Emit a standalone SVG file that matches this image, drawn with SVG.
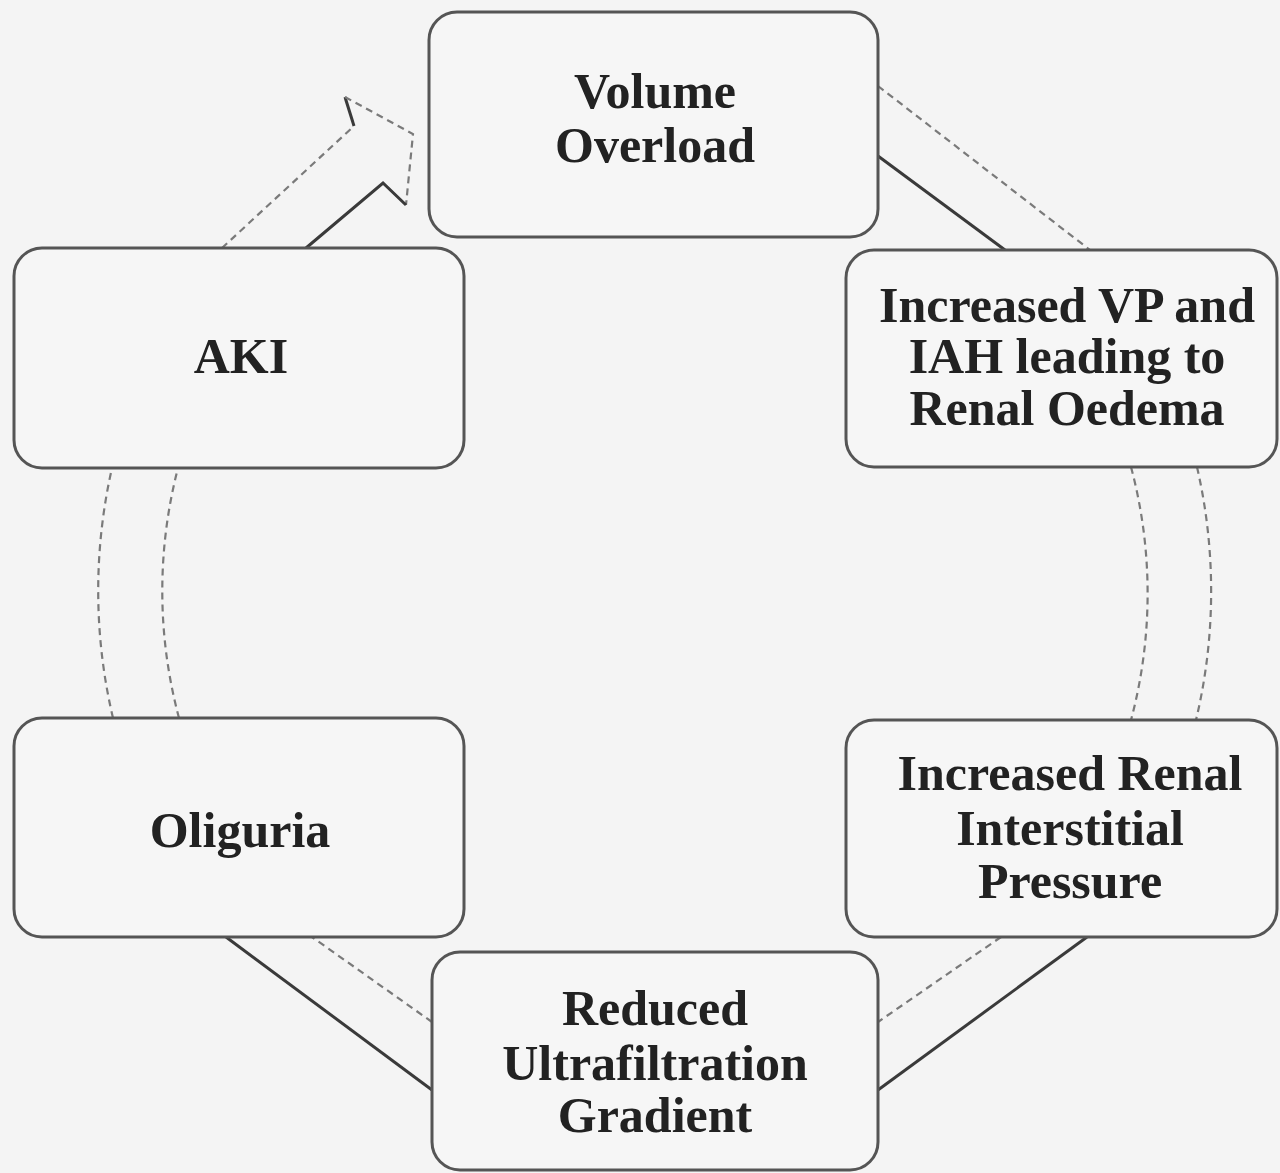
<svg xmlns="http://www.w3.org/2000/svg" width="1280" height="1173" viewBox="0 0 1280 1173">
<style>
.bg{fill:#f4f4f4}
.box{fill:#f6f6f6;stroke:#555;stroke-width:3}
.lbl{font-family:"Liberation Serif","Times New Roman",serif;font-weight:bold;font-size:50px;fill:#222;text-anchor:middle}
.dash{fill:none;stroke:#7a7a7a;stroke-width:2.2;stroke-dasharray:7 5}
.solid{fill:none;stroke:#3a3a3a;stroke-width:3}
</style>
<rect class="bg" x="0" y="0" width="1280" height="1173"/>
<g id="connectors">
  <!-- Volume Overload -> Increased VP -->
  <path class="dash" d="M 878 86 L 1090 250"/>
  <path class="solid" d="M 878 156 L 1005 250"/>
  <!-- Increased VP -> Increased Renal Interstitial Pressure -->
  <path class="dash" d="M 1197 467 A 554 554 0 0 1 1196 720"/>
  <path class="dash" d="M 1131 467 A 490 490 0 0 1 1131 720"/>
  <!-- Increased Renal Interstitial Pressure -> Reduced Ultrafiltration -->
  <path class="solid" d="M 1087 937 L 878 1090"/>
  <path class="dash" d="M 1001 937 L 878 1022"/>
  <!-- Reduced Ultrafiltration -> Oliguria -->
  <path class="solid" d="M 432 1090 L 226 937"/>
  <path class="dash" d="M 432 1022 L 312 937"/>
  <!-- Oliguria -> AKI -->
  <path class="dash" d="M 113 718 A 554 554 0 0 1 112 468"/>
  <path class="dash" d="M 179 718 A 490 490 0 0 1 178 468"/>
  <!-- AKI -> Volume Overload (with arrowhead) -->
  <path class="dash" d="M 222 248 L 354 126"/>
  <path class="solid" d="M 354 126 L 345 97"/>
  <path class="dash" d="M 345 97 L 413 134 L 406 205"/>
  <path class="solid" d="M 406 205 L 383 183 L 306 248"/>
</g>
<g id="node-volume-overload">
  <rect class="box" x="429" y="12" width="449" height="225" rx="28"/>
  <text class="lbl" x="655" y="108">Volume</text>
  <text class="lbl" x="655" y="162">Overload</text>
</g>
<g id="node-increased-vp">
  <rect class="box" x="846" y="250" width="431" height="217" rx="28"/>
  <text class="lbl" x="1067" y="322">Increased VP and</text>
  <text class="lbl" x="1067" y="373">IAH leading to</text>
  <text class="lbl" x="1067" y="425">Renal Oedema</text>
</g>
<g id="node-interstitial-pressure">
  <rect class="box" x="846" y="720" width="431" height="217" rx="28"/>
  <text class="lbl" x="1070" y="790">Increased Renal</text>
  <text class="lbl" x="1070" y="845">Interstitial</text>
  <text class="lbl" x="1070" y="898">Pressure</text>
</g>
<g id="node-reduced-ultrafiltration">
  <rect class="box" x="432" y="952" width="446" height="218" rx="28"/>
  <text class="lbl" x="655" y="1025">Reduced</text>
  <text class="lbl" x="655" y="1080">Ultrafiltration</text>
  <text class="lbl" x="655" y="1132">Gradient</text>
</g>
<g id="node-oliguria">
  <rect class="box" x="14" y="718" width="450" height="219" rx="28"/>
  <text class="lbl" x="240" y="847">Oliguria</text>
</g>
<g id="node-aki">
  <rect class="box" x="14" y="248" width="450" height="220" rx="28"/>
  <text class="lbl" x="241" y="373">AKI</text>
</g>
</svg>
